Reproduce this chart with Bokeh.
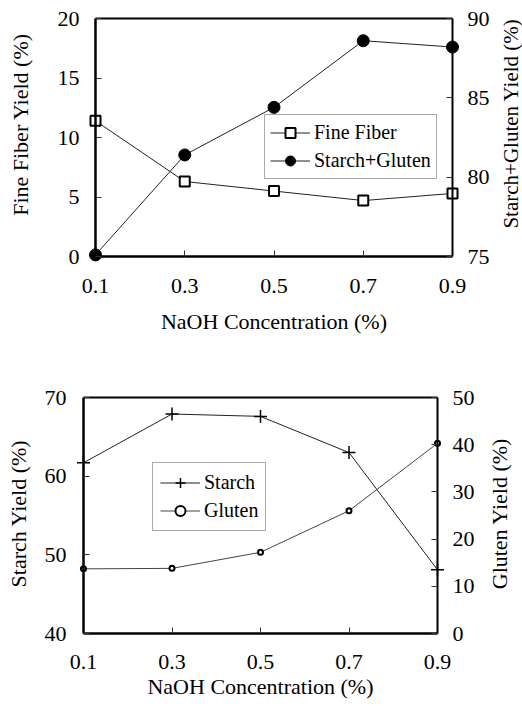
import math
from bokeh.plotting import figure
from bokeh.models import Range1d, LinearAxis, FixedTicker, Legend, LegendItem, Label
from bokeh.layouts import column
from bokeh.embed import file_html
from bokeh.resources import INLINE

# ---- data ----
conc = [0.1, 0.3, 0.5, 0.7, 0.9]
x_ticks = [0.1, 0.3, 0.5, 0.7, 0.9]
fine_fiber = [11.4, 6.3, 5.5, 4.7, 5.3]
starch_gluten = [75.1, 81.4, 84.4, 88.6, 88.2]
starch = [61.7, 67.9, 67.6, 63.0, 48.1]
gluten = [13.7, 13.8, 17.2, 26.0, 40.3]

top_left_ticks = [0, 5, 10, 15, 20]
top_right_ticks = [75, 80, 85, 90]
bot_left_ticks = [40, 50, 60, 70]
bot_right_ticks = [0, 10, 20, 30, 40, 50]

FONT = "Liberation Serif"
W = 522


def rng(lo, hi, near, far, length):
    """Range whose [lo, hi] maps onto a box of `length` px, with `near`/`far` px of room outside."""
    s = (hi - lo) / length
    return Range1d(lo - near * s, hi + far * s)


def style_axis(ax, tick_standoff):
    ax.axis_line_width = 2.5
    ax.axis_line_color = "black"
    ax.major_tick_in = 6
    ax.major_tick_out = 0
    ax.major_tick_line_width = 1
    ax.major_tick_line_color = "#333333"
    ax.minor_tick_in = 0
    ax.minor_tick_out = 0
    ax.major_label_text_font = FONT
    ax.major_label_text_font_size = "22px"
    ax.major_label_text_color = "black"
    ax.major_label_standoff = tick_standoff
    ax.axis_label_text_font = FONT
    ax.axis_label_text_font_size = "22px"
    ax.axis_label_text_font_style = "normal"
    ax.axis_label_text_color = "black"


def make_panel(H, box, xlim, yl, yr, yl_ticks, yr_ticks,
               xstand, xlab_stand, lstand, rstand, ltitle, rtitle, loff, roff, rsize):
    bx0, bx1, by0, by1 = box  # box edges in px: left, right, top, bottom
    p = figure(frame_width=W, frame_height=H,
               min_border_left=0, min_border_right=0, min_border_top=0, min_border_bottom=0,
               x_range=rng(xlim[0], xlim[1], bx0, W - bx1, bx1 - bx0),
               y_range=rng(yl[0], yl[1], H - by1, by0, by1 - by0),
               x_axis_type=None, y_axis_type=None,
               output_backend="svg", toolbar_location=None)
    p.title.visible = False
    p.extra_y_ranges = {"right": rng(yr[0], yr[1], H - by1, by0, by1 - by0)}
    p.outline_line_color = None
    p.background_fill_color = "white"
    p.border_fill_color = "white"

    xa = LinearAxis(ticker=FixedTicker(ticks=x_ticks), fixed_location=yl[0],
                    bounds=xlim, axis_label="NaOH Concentration (%)")
    style_axis(xa, xstand)
    xa.axis_label_standoff = xlab_stand
    p.add_layout(xa, "below")

    ta = LinearAxis(ticker=FixedTicker(ticks=[]), fixed_location=yl[1], bounds=xlim)
    style_axis(ta, 0)
    ta.axis_line_width = 2
    ta.major_label_text_font_size = "0px"
    p.add_layout(ta, "above")

    la = LinearAxis(ticker=FixedTicker(ticks=yl_ticks), fixed_location=xlim[0], bounds=yl)
    style_axis(la, lstand)
    p.add_layout(la, "left")

    ra = LinearAxis(y_range_name="right", ticker=FixedTicker(ticks=yr_ticks),
                    fixed_location=xlim[1], bounds=yr)
    style_axis(ra, rstand)
    ra.axis_line_width = 2
    p.add_layout(ra, "right")

    ymid = (yl[0] + yl[1]) / 2
    for xx, txt, off, fs in ((xlim[0], ltitle, loff, "22px"), (xlim[1], rtitle, roff, rsize)):
        p.add_layout(Label(x=xx, y=ymid, x_offset=off[0], y_offset=off[1], text=txt,
                           angle=math.pi / 2, text_align="center", text_baseline="middle",
                           text_font=FONT, text_font_size=fs, text_color="black"))
    return p


def style_legend(lg, loc, pad, spacing, gw):
    lg.location = loc
    lg.padding = pad
    lg.spacing = spacing
    lg.margin = 0
    lg.glyph_width = gw
    lg.glyph_height = 25
    lg.label_height = 25
    lg.label_standoff = 4
    lg.label_text_font = FONT
    lg.label_text_font_size = "20px"
    lg.label_text_color = "black"
    lg.border_line_color = "#555555"
    lg.border_line_width = 1
    lg.background_fill_color = "white"
    lg.background_fill_alpha = 1


# ---- top panel ----
p1 = make_panel(345, (95, 452, 18, 256), (0.1, 0.9), (0, 20), (75, 90),
                top_left_ticks, top_right_ticks,
                xstand=22, xlab_stand=13, lstand=16, rstand=15,
                ltitle="Fine Fiber Yield (%)", rtitle="Starch+Gluten Yield (%)",
                loff=(-75, 13), roff=(58, 14), rsize="21px")
l_ff = p1.line(conc, fine_fiber, line_color="#222222", line_width=1)
s_ff = p1.scatter(conc, fine_fiber, marker="square", size=10, fill_color="white",
                  line_color="black", line_width=2)
l_sg = p1.line(conc, starch_gluten, y_range_name="right", line_color="#222222", line_width=1)
s_sg = p1.scatter(conc, starch_gluten, y_range_name="right", marker="circle", size=12,
                  fill_color="black", line_color="black")
leg1 = Legend(items=[LegendItem(label="Fine Fiber", renderers=[l_ff, s_ff]),
                     LegendItem(label="Starch+Gluten", renderers=[l_sg, s_sg])])
style_legend(leg1, (264, 166), 5, 3, 40)
p1.add_layout(leg1, "center")

# ---- bottom panel ----
p2 = make_panel(361, (83, 437, 52, 288), (0.1, 0.9), (40, 70), (0, 50),
                bot_left_ticks, bot_right_ticks,
                xstand=21, xlab_stand=2, lstand=17, rstand=15,
                ltitle="Starch Yield (%)", rtitle="Gluten Yield (%)",
                loff=(-65, 2), roff=(62, 2), rsize="22px")
l_st = p2.line(conc, starch, line_color="#222222", line_width=1)
s_st = p2.scatter(conc, starch, marker="cross", size=13, line_color="black", line_width=1.5)
l_gl = p2.line(conc, gluten, y_range_name="right", line_color="#444444", line_width=1)
s_gl = p2.scatter(conc, gluten, y_range_name="right", marker="circle", size=5,
                  fill_color="white", line_color="black", line_width=2)
leg2 = Legend(items=[LegendItem(label="Starch", renderers=[l_st, s_st]),
                     LegendItem(label="Gluten", renderers=[l_gl, s_gl])])
style_legend(leg2, (152, 175), 7, 3, 40)
p2.add_layout(leg2, "center")

layout = column(p1, p2, spacing=0)
open("out.html", "w").write(file_html(layout, INLINE))
